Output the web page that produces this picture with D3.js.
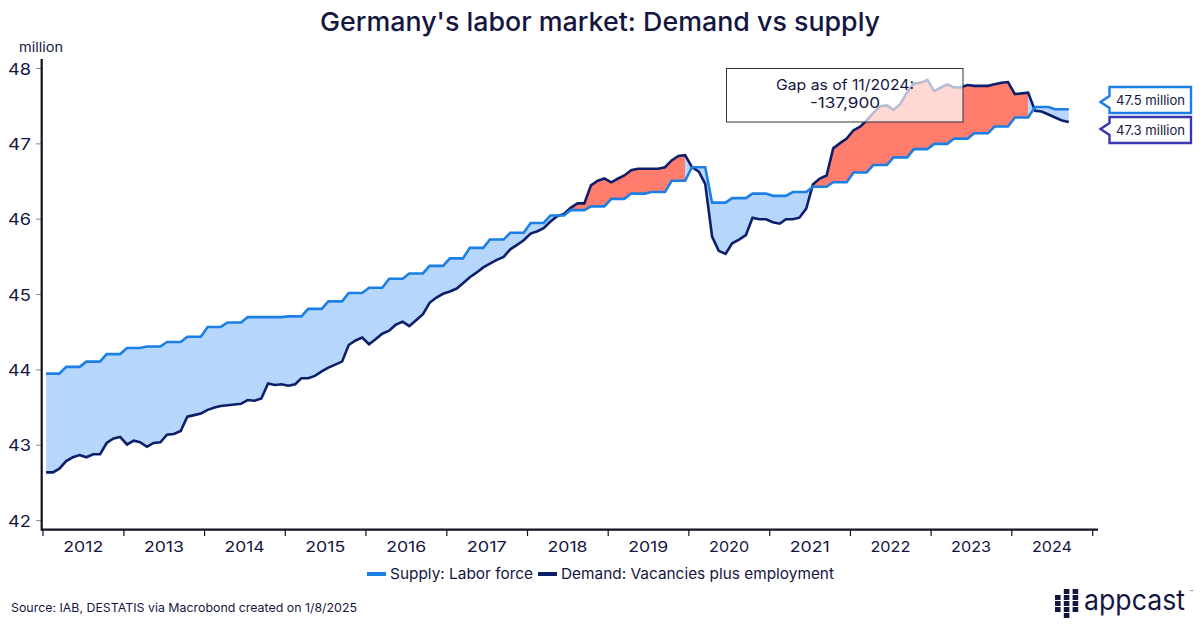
<!DOCTYPE html>
<html>
<head>
<meta charset="utf-8">
<script src="https://cdn.jsdelivr.net/npm/d3@7"></script>
<style>
  html, body { margin: 0; background: #fff; }
  svg { display: block; }
  text { font-family: Inter, "Open Sans", sans-serif; fill: #15163f; }
</style>
</head>
<body>
<svg id="chart" width="1200" height="626"></svg>
<script>
const years = [2012, 2013, 2014, 2015, 2016, 2017, 2018, 2019, 2020, 2021, 2022, 2023, 2024];
const yTicks = [42, 43, 44, 45, 46, 47, 48];

// labor force is published quarterly, Q1 2012 to Q3 2024
const supplyQuarterly = [
  43.95, 44.04, 44.11, 44.21,
  44.29, 44.31, 44.37, 44.44,
  44.57, 44.63, 44.70, 44.70,
  44.71, 44.81, 44.91, 45.02,
  45.09, 45.21, 45.28, 45.38,
  45.48, 45.62, 45.73, 45.82,
  45.95, 46.05, 46.12, 46.17,
  46.27, 46.34, 46.36, 46.51,
  46.69, 46.22, 46.28, 46.34,
  46.31, 46.36, 46.43, 46.49,
  46.62, 46.72, 46.82, 46.93,
  47.00, 47.07, 47.14, 47.23,
  47.35, 47.49, 47.46
];

// vacancies plus employment, monthly, Jan 2012 to Sep 2024
const demandMonthly = [
  42.64, 42.64, 42.69, 42.79, 42.84, 42.87, 42.84, 42.88, 42.88, 43.03, 43.09, 43.11,
  43.01, 43.06, 43.04, 42.98, 43.03, 43.04, 43.14, 43.15, 43.19, 43.38, 43.40, 43.42,
  43.47, 43.50, 43.52, 43.53, 43.54, 43.55, 43.60, 43.59, 43.62, 43.82, 43.80, 43.81,
  43.79, 43.81, 43.89, 43.89, 43.92, 43.98, 44.03, 44.07, 44.11, 44.33, 44.39, 44.43,
  44.34, 44.41, 44.48, 44.52, 44.60, 44.64, 44.58, 44.66, 44.74, 44.89, 44.96, 45.01,
  45.04, 45.08, 45.15, 45.23, 45.29, 45.36, 45.41, 45.46, 45.50, 45.60, 45.66, 45.72,
  45.81, 45.84, 45.88, 45.97, 46.04, 46.07, 46.15, 46.21, 46.21, 46.45, 46.51, 46.54,
  46.49, 46.54, 46.58, 46.65, 46.67, 46.67, 46.67, 46.67, 46.69, 46.78, 46.84, 46.85,
  46.69, 46.63, 46.47, 45.77, 45.58, 45.54, 45.68, 45.73, 45.79, 46.02, 46.00, 46.00,
  45.96, 45.94, 46.00, 46.00, 46.02, 46.14, 46.46, 46.54, 46.58, 46.94, 47.01, 47.07,
  47.18, 47.23, 47.31, 47.41, 47.50, 47.51, 47.45, 47.53, 47.69, 47.80, 47.81, 47.85,
  47.70, 47.75, 47.79, 47.75, 47.75, 47.78, 47.77, 47.77, 47.77, 47.79, 47.81, 47.82,
  47.66, 47.67, 47.68, 47.44, 47.43, 47.39, 47.35, 47.31, 47.29
];

const sourceText = "Source: IAB, DESTATIS via Macrobond created on 1/8/2025";

const supplyColor = "#1c7fe6";
const demandColor = "#0d1f6b";
const axisColor = "#111122";

const svg = d3.select("#chart");

const x = d3.scaleTime()
  .domain([new Date(2012, 0, 1), new Date(2025, 0, 1)])
  .range([43, 1092.7]);
const y = d3.scaleLinear().domain([42, 48]).range([520.6, 68.5]);

const rows = demandMonthly.map((demand, i) => ({
  date: new Date(2012, i, 15),
  demand,
  supply: supplyQuarterly[Math.floor(i / 3)]
}));

// fill colour goes by month pair: red only while demand is above supply at both ends
const runs = [];
for (let i = 0; i < rows.length - 1; i++) {
  const over = rows[i].demand > rows[i].supply && rows[i + 1].demand > rows[i + 1].supply;
  const last = runs[runs.length - 1];
  if (last && last.over === over) last.rows.push(rows[i + 1]);
  else runs.push({ over, rows: [rows[i], rows[i + 1]] });
}

const area = d3.area()
  .x(d => x(d.date))
  .y0(d => y(d.supply))
  .y1(d => y(d.demand));

svg.append("g")
  .selectAll("path")
  .data(runs)
  .join("path")
  .attr("d", d => area(d.rows))
  .attr("fill", d => d.over ? "#ff7d6c" : "#b6d7fb");

const line = key => d3.line().x(d => x(d.date)).y(d => y(d[key]));

svg.append("path").datum(rows)
  .attr("d", line("demand"))
  .attr("fill", "none").attr("stroke", demandColor).attr("stroke-width", 2.6);
svg.append("path").datum(rows)
  .attr("d", line("supply"))
  .attr("fill", "none").attr("stroke", supplyColor).attr("stroke-width", 2.6);

// y axis
const yAxis = svg.append("g");
yAxis.selectAll("line")
  .data(yTicks)
  .join("line")
  .attr("x1", 36).attr("x2", 41)
  .attr("y1", d => y(d)).attr("y2", d => y(d))
  .attr("stroke", "#8a8a94").attr("stroke-width", 1);
yAxis.selectAll("text")
  .data(yTicks)
  .join("text")
  .attr("x", 31)
  .attr("y", d => y(d) + 6)
  .attr("text-anchor", "end")
  .attr("font-size", 16)
  .attr("textLength", 23)
  .attr("lengthAdjust", "spacingAndGlyphs")
  .text(d => d);
svg.append("line")
  .attr("x1", 41.7).attr("x2", 41.7).attr("y1", 59).attr("y2", 530.5)
  .attr("stroke", axisColor).attr("stroke-width", 2.2);
svg.append("text")
  .attr("x", 19).attr("y", 52)
  .attr("font-size", 13).attr("fill", "#333")
  .attr("textLength", 44).attr("lengthAdjust", "spacingAndGlyphs")
  .text("million");

// x axis
svg.append("line")
  .attr("x1", 41).attr("x2", 1098).attr("y1", 529.6).attr("y2", 529.6)
  .attr("stroke", axisColor).attr("stroke-width", 2.2);
const yearStarts = years.concat(2025).map(yr => new Date(yr, 0, 1));
svg.append("g")
  .selectAll("line")
  .data(yearStarts)
  .join("line")
  .attr("x1", d => x(d)).attr("x2", d => x(d))
  .attr("y1", 530).attr("y2", 536)
  .attr("stroke", axisColor).attr("stroke-width", 1.2);
svg.append("g")
  .selectAll("text")
  .data(years)
  .join("text")
  .attr("x", d => x(new Date(d, 6, 1)))
  .attr("y", 552)
  .attr("text-anchor", "middle")
  .attr("font-size", 15)
  .attr("textLength", 40)
  .attr("lengthAdjust", "spacingAndGlyphs")
  .text(d => d);

// title
svg.append("text")
  .attr("x", 600).attr("y", 31)
  .attr("text-anchor", "middle")
  .attr("font-size", 26).attr("font-weight", 450)
  .attr("textLength", 560).attr("lengthAdjust", "spacingAndGlyphs")
  .text("Germany's labor market: Demand vs supply");

// gap note, sits over the lines with a see-through white fill
svg.append("rect")
  .attr("x", 726.5).attr("y", 68.5).attr("width", 236.5).attr("height", 53.5)
  .attr("fill", "#fff").attr("fill-opacity", 0.7)
  .attr("stroke", "#33333c").attr("stroke-width", 1);
svg.append("text")
  .attr("x", 845).attr("y", 90)
  .attr("text-anchor", "middle").attr("font-size", 14.5)
  .attr("textLength", 138).attr("lengthAdjust", "spacingAndGlyphs")
  .text("Gap as of 11/2024:");
svg.append("text")
  .attr("x", 845).attr("y", 108)
  .attr("text-anchor", "middle").attr("font-size", 14.5)
  .attr("textLength", 70).attr("lengthAdjust", "spacingAndGlyphs")
  .text("-137,900");

// end labels
const endLabels = [
  { text: "47.5 million", color: "#1c7fe6", top: 87, tip: 102 },
  { text: "47.3 million", color: "#3838b0", top: 117, tip: 129 }
];
const tag = svg.append("g").selectAll("g").data(endLabels).join("g");
tag.append("path")
  .attr("d", d => {
    const p = d3.path();
    p.moveTo(1109.5, d.top);
    p.lineTo(1191, d.top);
    p.lineTo(1191, d.top + 26);
    p.lineTo(1109.5, d.top + 26);
    p.lineTo(1109.5, d.tip + 6);
    p.lineTo(1100.5, d.tip);
    p.lineTo(1109.5, d.tip - 6);
    p.closePath();
    return p.toString();
  })
  .attr("fill", "#fff").attr("stroke", d => d.color).attr("stroke-width", 2.4);
tag.append("text")
  .attr("x", 1116).attr("y", d => d.top + 17.5)
  .attr("font-size", 13)
  .attr("textLength", 69).attr("lengthAdjust", "spacingAndGlyphs")
  .text(d => d.text);

// legend
const legendItems = [
  { text: "Supply: Labor force", color: supplyColor, x0: 367, x1: 386, tx: 390, tw: 143 },
  { text: "Demand: Vacancies plus employment", color: demandColor, x0: 538, x1: 557, tx: 561, tw: 273 }
];
const legend = svg.append("g").selectAll("g").data(legendItems).join("g");
legend.append("line")
  .attr("x1", d => d.x0).attr("x2", d => d.x1).attr("y1", 574).attr("y2", 574)
  .attr("stroke", d => d.color).attr("stroke-width", 4);
legend.append("text")
  .attr("x", d => d.tx).attr("y", 579)
  .attr("font-size", 15)
  .attr("textLength", d => d.tw).attr("lengthAdjust", "spacingAndGlyphs")
  .text(d => d.text);

// source
svg.append("text")
  .attr("x", 11).attr("y", 612)
  .attr("font-size", 12)
  .attr("textLength", 346).attr("lengthAdjust", "spacingAndGlyphs")
  .text(sourceText);

// appcast logo
const logoDots = [
  [0, 1], [0, 2], [0, 3],
  [1, 0], [1, 1], [1, 2], [1, 3], [1, 4],
  [2, 0], [2, 1], [2, 2], [2, 3]
];
svg.append("g")
  .selectAll("rect")
  .data(logoDots)
  .join("rect")
  .attr("x", d => 1055 + d[0] * 8.8)
  .attr("y", d => 589 + d[1] * 6)
  .attr("width", 5.6).attr("height", 5)
  .attr("fill", "#15163f");
svg.append("text")
  .attr("x", 1084).attr("y", 610)
  .attr("font-size", 28)
  .attr("textLength", 101).attr("lengthAdjust", "spacingAndGlyphs")
  .text("appcast");
svg.append("text")
  .attr("x", 1190).attr("y", 594)
  .attr("font-size", 5)
  .text("™");
</script>
</body>
</html>
